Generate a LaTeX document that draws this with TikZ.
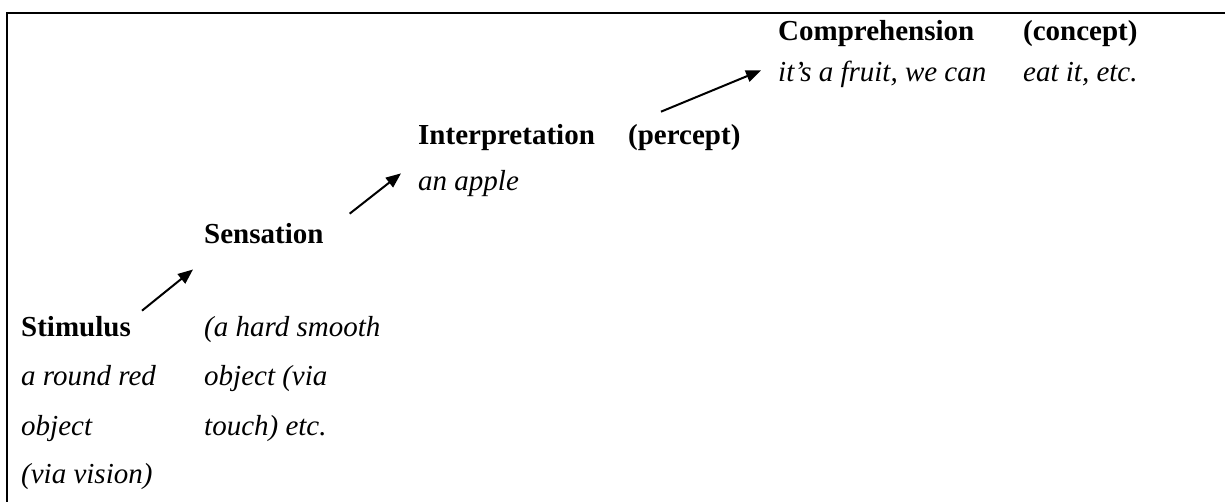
\documentclass[tikz,border=0pt]{standalone}
\usepackage{fontspec}
\setmainfont{Liberation Serif}
\usetikzlibrary{arrows.meta,positioning}
\tikzset{
  >={Triangle[length=15pt,width=12pt]},
  head/.style={anchor=base west,inner sep=0pt,font=\fontsize{29}{34}\selectfont\bfseries},
  note/.style={anchor=base west,inner sep=0pt,font=\fontsize{29}{34}\selectfont\itshape},
  flow/.style={->,line width=2pt},
}
\begin{document}
\begin{tikzpicture}[x=1pt,y=1pt]
  \useasboundingbox (0,0) rectangle (1225,501);
  \draw[line width=2pt] (1227,488.3) -- (7,488.3) -- (7,-3);
  % stimulus
  \node[head] (stim) at (21,165) {Stimulus};
  \node[note] (stim1) at (21,116) {a round red};
  \node[note] (stim2) at (21,66) {object};
  \node[note] (stim3) at (21,18) {(via vision)};
  \node[note] (touch1) at (204,165) {(a hard smooth};
  \node[note] (touch2) at (204,116) {object (via};
  \node[note] (touch3) at (204,66) {touch) etc.};
  % sensation
  \node[head] (sens) at (204,257) {Sensation};
  % interpretation
  \node[head] (interp) at (418,356) {Interpretation};
  \node[head] (percept) at (628,356) {(percept)};
  \node[note] (apple) at (418,310) {an apple};
  % comprehension
  \node[head] (comp) at (778,460) {Comprehension};
  \node[head] (concept) at (1023,460) {(concept)};
  \node[note] (fruit) at (778,419) {it's a fruit, we can};
  \node[note] (eat) at (1023,419) {eat it, etc.};
  \draw[flow] ([shift={(11,5)}]stim.north east) -- ([shift={(-11,-25)}]sens.south west);
  \draw[flow] ([shift={(26,10)}]sens.north east) -- ([shift={(-17,-22)}]interp.south west);
  \draw[flow] ([shift={(33,13)}]percept.north west) -- ([shift={(-17,-23)}]comp.south west);
\end{tikzpicture}
\end{document}
